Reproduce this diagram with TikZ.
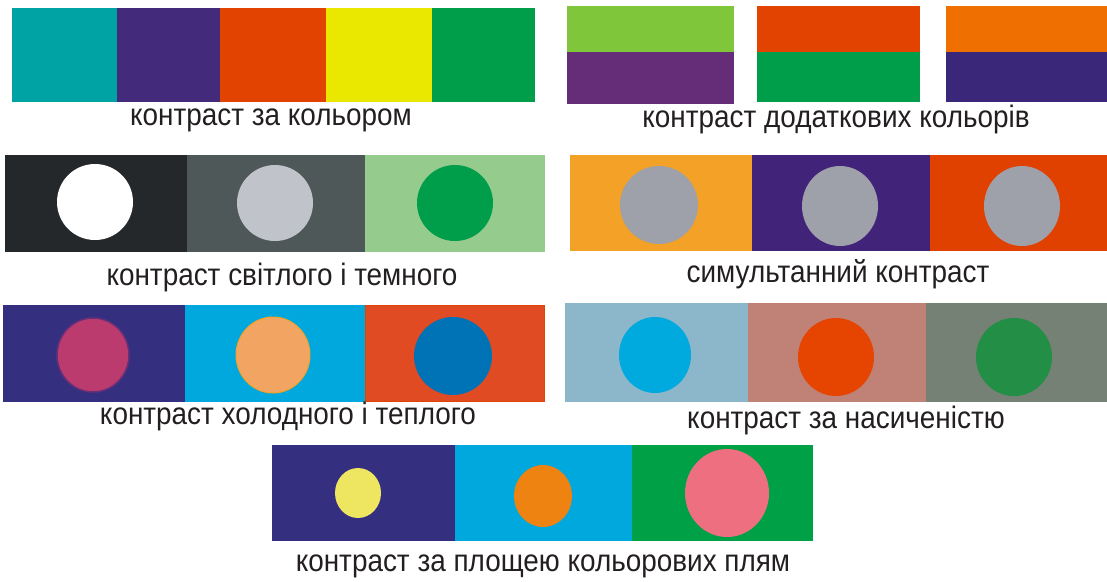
\documentclass[tikz,border=0pt]{standalone}
\usepackage{fontspec}
\setmainfont{Liberation Sans}
\newfontfamily\lblfont{Liberation Sans}[FakeStretch=0.9]
\definecolor{cTeal}{HTML}{00A3A3}
\definecolor{cPurp}{HTML}{432A7B}
\definecolor{cRed}{HTML}{E34300}
\definecolor{cYel}{HTML}{EAE800}
\definecolor{cGreen}{HTML}{009E4A}
\definecolor{cLime}{HTML}{7FC63B}
\definecolor{cViolet}{HTML}{652D78}
\definecolor{cOrange}{HTML}{EF7000}
\definecolor{cIndigo}{HTML}{3A2779}
\definecolor{cBlack}{HTML}{24282B}
\definecolor{cSlate}{HTML}{4E5859}
\definecolor{cPaleG}{HTML}{96CB8E}
\definecolor{cLGray}{HTML}{C0C3C9}
\definecolor{cAmber}{HTML}{F3A127}
\definecolor{cPurp2}{HTML}{41247A}
\definecolor{cRed2}{HTML}{E04000}
\definecolor{cGray}{HTML}{9EA0AA}
\definecolor{cNavy}{HTML}{352F80}
\definecolor{cCyan}{HTML}{00A8DE}
\definecolor{cBrick}{HTML}{E14B24}
\definecolor{cPink}{HTML}{BC3B6E}
\definecolor{cPeach}{HTML}{F2A563}
\definecolor{cBlue}{HTML}{0072B6}
\definecolor{cSky}{HTML}{8CB6CA}
\definecolor{cRose}{HTML}{C08276}
\definecolor{cSage}{HTML}{748174}
\definecolor{cCyan2}{HTML}{00AADE}
\definecolor{cRed3}{HTML}{E54500}
\definecolor{cGreen2}{HTML}{238E45}
\definecolor{cLemon}{HTML}{EEE660}
\definecolor{cTang}{HTML}{EE8312}
\definecolor{cCoral}{HTML}{EE6F7F}
\definecolor{cGreen3}{HTML}{00A047}
\definecolor{cText}{HTML}{231F20}
\begin{document}
\begin{tikzpicture}[x=1pt,y=-1pt,
  lbl/.style={text=cText,inner sep=0pt,anchor=base,font=\lblfont\fontsize{31}{36}\selectfont}]
\useasboundingbox (0,0) rectangle (1107,581);
% Row 1 left
\fill[cTeal] (12,8) rectangle (117,102);
\fill[cPurp] (117,8) rectangle (220,102);
\fill[cRed] (220,8) rectangle (326,102);
\fill[cYel] (326,8) rectangle (432,102);
\fill[cGreen] (432,8) rectangle (535,102);
\node[lbl] (l1) at (271,125) {контраст за кольором};
% Row 1 right
\fill[cLime] (567,6) rectangle (734,52);
\fill[cViolet] (567,52) rectangle (734,104);
\fill[cRed] (757,6) rectangle (920,52);
\fill[cGreen] (757,52) rectangle (920,102);
\fill[cOrange] (946,6) rectangle (1107,52);
\fill[cIndigo] (946,52) rectangle (1107,102);
\node[lbl] (l2) at (836,127) {контраст додаткових кольорів};
% Row 2 left
\fill[cBlack] (5,155) rectangle (187,252);
\fill[cSlate] (187,155) rectangle (365,252);
\fill[cPaleG] (365,155) rectangle (545,252);
\fill[white] (95,202) ellipse [x radius=38,y radius=38];
\fill[cLGray] (275,203) ellipse [x radius=38,y radius=38];
\fill[cGreen] (455,203) ellipse [x radius=38,y radius=38];
\node[lbl] (l3) at (282,285) {контраст світлого і темного};
% Row 2 right
\fill[cAmber] (570,155) rectangle (752,251);
\fill[cPurp2] (752,155) rectangle (930,251);
\fill[cRed2] (930,155) rectangle (1107,251);
\fill[cGray] (659,205) ellipse [x radius=39,y radius=39];
\fill[cGray] (840,206) ellipse [x radius=38,y radius=40];
\fill[cGray] (1022,206) ellipse [x radius=38,y radius=40];
\node[lbl] (l4) at (838,282) {симультанний контраст};
% Row 3 left
\fill[cNavy] (3,305) rectangle (185,402);
\fill[cCyan] (185,305) rectangle (365,402);
\fill[cBrick] (365,305) rectangle (545,402);
\draw[cRed,line width=1.2pt] (365.6,305.6) rectangle (544.4,401.4);
\fill[cPink,draw=cPurp!70!cPink,line width=1.5pt] (93,355) ellipse [x radius=36,y radius=37];
\fill[cPeach,draw=cAmber,line width=1pt] (273,355) ellipse [x radius=37,y radius=38];
\fill[cBlue] (453,356) ellipse [x radius=39,y radius=39];
\node[lbl] (l5) at (288,424) {контраст холодного і теплого};
% Row 3 right
\fill[cSky] (565,303) rectangle (748,402);
\fill[cRose] (748,303) rectangle (926,402);
\fill[cSage] (926,303) rectangle (1107,402);
\fill[cCyan2] (655,355) ellipse [x radius=36,y radius=38];
\fill[cRed3] (836,357) ellipse [x radius=38,y radius=39];
\fill[cGreen2] (1014,357) ellipse [x radius=38,y radius=39];
\node[lbl] (l6) at (846,428) {контраст за насиченістю};
% Row 4
\fill[cNavy] (272,445) rectangle (455,541);
\fill[cCyan] (455,445) rectangle (632,541);
\fill[cGreen3] (632,445) rectangle (813,541);
\fill[cLemon] (358,493) ellipse [x radius=23,y radius=25];
\fill[cTang] (543,496) ellipse [x radius=29,y radius=31];
\fill[cCoral] (727,493) ellipse [x radius=42,y radius=44];
\node[lbl] (l7) at (543,571) {контраст за площею кольорових плям};
\end{tikzpicture}
\end{document}
